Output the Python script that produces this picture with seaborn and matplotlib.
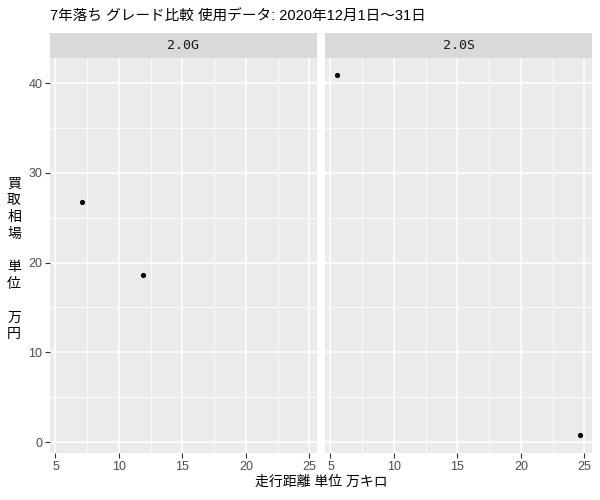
import pandas as pd
import matplotlib.pyplot as plt
import seaborn as sns
from matplotlib.patches import Rectangle

# data
grade = ["2.0G", "2.0G", "2.0S", "2.0S"]
km = [7.1, 11.9, 5.5, 24.65]        # 万キロ
price = [26.75, 18.6, 40.85, 0.78]  # 万円
panels = ["2.0G", "2.0S"]
xticks = [5, 10, 15, 20, 25]
yticks = [0, 10, 20, 30, 40]

df = pd.DataFrame({"grade": grade, "km": km, "price": price})

sns.set_theme(style="darkgrid", rc={
    "axes.facecolor": "#EBEBEB",
    "grid.color": "white",
    "axes.edgecolor": "#EBEBEB",
})
plt.rcParams["font.family"] = ["Liberation Sans", "Noto Sans CJK JP", "DejaVu Sans"]

g = sns.relplot(data=df, x="km", y="price", col="grade", col_order=panels,
                color="black", s=14, edgecolor=None, linewidth=0,
                height=4, aspect=0.7)
g.figure.set_size_inches(6, 5)
g.figure.set_dpi(100)

left = [50 / 600, 325 / 600]
w = 267 / 600
bottom = 1 - 453 / 500
h = 395 / 500
strip_h = 25 / 395

for i, ax in enumerate(g.axes.flat):
    ax.set_position([left[i], bottom, w, h])
    ax.set_xlim(4.57, 25.6)
    ax.set_ylim(-1.22, 42.8)
    ax.set_xticks(xticks)
    ax.set_yticks(yticks)
    ax.set_xticks([7.5, 12.5, 17.5, 22.5], minor=True)
    ax.set_yticks([5, 15, 25, 35], minor=True)
    ax.grid(which="major", color="white", linewidth=1.1)
    ax.grid(which="minor", color="white", linewidth=0.55)
    ax.set_title("")
    ax.set_xlabel("")
    ax.set_ylabel("")
    ax.tick_params(axis="x", which="major", length=3.5, width=0.8, color="#333333",
                   labelsize=9, labelcolor="#4D4D4D", pad=2)
    ax.tick_params(which="minor", length=0)
    if i == 0:
        ax.tick_params(axis="y", which="major", length=3.5, width=0.8, color="#333333",
                       labelsize=9, labelcolor="#4D4D4D", pad=2, left=True)
    else:
        ax.tick_params(axis="y", which="major", length=0, labelleft=False)
    ax.tick_params(axis="x", bottom=True)
    for s in ax.spines.values():
        s.set_visible(False)
    # facet strip
    ax.add_patch(Rectangle((0, 1), 1, strip_h, transform=ax.transAxes,
                           facecolor="#D9D9D9", edgecolor="none", clip_on=False))
    ax.text(0.5, 1 + strip_h / 2, panels[i], transform=ax.transAxes,
            ha="center", va="center", fontsize=9.5, color="#1A1A1A",
            family="DejaVu Sans Mono")

fig = g.figure
fig.text(50 / 600, 1 - 17 / 500, "7年落ち グレード比較 使用データ: 2020年12月1日～31日",
         ha="left", va="center", fontsize=10.5, color="black")
fig.text(321 / 600, 1 - 482 / 500, "走行距離 単位 万キロ",
         ha="center", va="center", fontsize=10, color="black")
fig.text(14 / 600, 1 - 259 / 500, "買\n取\n相\n場\n\n単\n位\n\n万\n円",
         ha="center", va="center", fontsize=10, color="black", linespacing=1.25)

fig.savefig("out.png", dpi=100)
